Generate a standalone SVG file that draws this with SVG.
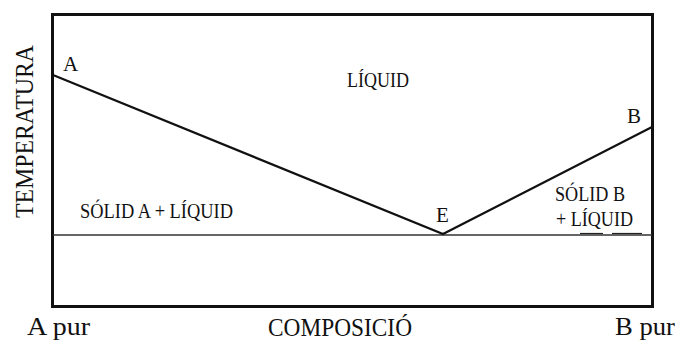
<svg xmlns="http://www.w3.org/2000/svg" width="676" height="340" viewBox="0 0 676 340">
<style>
.t{font-family:"Liberation Serif","Times New Roman",serif;fill:#111}
.frame{fill:none;stroke:#111;stroke-width:3}
.liq{fill:none;stroke:#111;stroke-width:2.2;stroke-linecap:round}
.eut{fill:none;stroke:#333;stroke-width:1.6}
</style>
<rect width="676" height="340" fill="#fff"/>
<g id="frame"><rect class="frame" x="52.5" y="14.5" width="600" height="292"/></g>
<g id="connectors">
<line class="eut" x1="53" y1="235" x2="652" y2="235"/>
<polyline class="liq" points="53,75 443,234 652,127"/>
<line x1="580" y1="233.5" x2="603" y2="233.5" stroke="#222" stroke-width="1.2"/>
<line x1="612" y1="233.5" x2="642" y2="233.5" stroke="#222" stroke-width="1.2"/>
</g>
<g id="labels">
<text class="t" x="63" y="71" font-size="21">A</text>
<text class="t" x="627" y="123" font-size="21">B</text>
<text class="t" x="436" y="222" font-size="21">E</text>
<text class="t" x="347" y="87" font-size="20" textLength="62" lengthAdjust="spacingAndGlyphs">LÍQUID</text>
<text class="t" x="80" y="218" font-size="20" textLength="153" lengthAdjust="spacingAndGlyphs">SÓLID A + LÍQUID</text>
<text class="t" x="555" y="201" font-size="20" textLength="70" lengthAdjust="spacingAndGlyphs">SÓLID B</text>
<text class="t" x="556" y="226" font-size="20" textLength="77" lengthAdjust="spacingAndGlyphs">+ LÍQUID</text>
<text class="t" x="27" y="335" font-size="26" textLength="63" lengthAdjust="spacingAndGlyphs">A pur</text>
<text class="t" x="268" y="336" font-size="25" textLength="144" lengthAdjust="spacingAndGlyphs">COMPOSICIÓ</text>
<text class="t" x="615" y="335" font-size="26" textLength="60" lengthAdjust="spacingAndGlyphs">B pur</text>
<text class="t" transform="translate(33,218) rotate(-90)" font-size="26" textLength="173" lengthAdjust="spacingAndGlyphs">TEMPERATURA</text>
</g>
</svg>
